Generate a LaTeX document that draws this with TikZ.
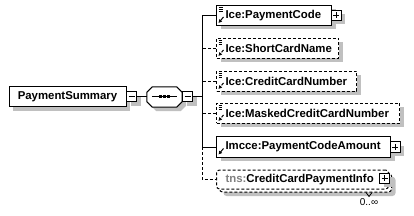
\documentclass[tikz,border=0pt]{standalone}
\usepackage{fontspec}
\setmainfont{Liberation Sans}
\usepackage{xcolor}
\definecolor{xsdshade}{HTML}{C0C0C0}
\definecolor{xsdns}{HTML}{808080}
\usetikzlibrary{arrows.meta,positioning}
\newcommand{\xsdfont}{\fontsize{11.4}{13}\selectfont\bfseries}
\tikzset{
  xsdshadow/.style={preaction={fill=xsdshade,transform canvas={xshift=4pt,yshift=-4pt}}},
  xsdbox/.style={draw,fill=white,line width=1pt,xsdshadow,font=\xsdfont,minimum height=20pt,inner sep=0pt},
  xsdelem/.style={xsdbox,anchor=west,text width=#1,align=left,execute at begin node={\hspace*{9pt}}},
  xsdopt/.style={xsdelem=#1,dash pattern=on 3pt off 2pt},
  xsdmulti/.style={draw,fill=white,line width=1pt,rounded corners=3pt,dash pattern=on 3pt off 2pt,
    font=\xsdfont,minimum height=19pt,inner sep=0pt,anchor=west,text width=#1,align=left,
    execute at begin node={\hspace*{9pt}},
    preaction={fill=xsdshade,transform canvas={xshift=7pt,yshift=-7pt}},
    preaction={draw,fill=white,transform canvas={xshift=3pt,yshift=-3pt}}},
  xsdattr/.style={path picture={
    \foreach \k in {2,3.8,5.6}
      \draw[line width=0.9pt] ([xshift=2pt,yshift=-\k pt]path picture bounding box.north west) -- ++(4.5pt,0pt);}},
  xsdref/.style={postaction={path picture={
    \draw[line width=1pt,-{Latex[length=3.5pt,width=4pt]}] ([xshift=7pt,yshift=8.5pt]path picture bounding box.south west)
      -- ([xshift=2pt,yshift=2.5pt]path picture bounding box.south west);}}},
  xsdpm/.style={draw,fill=white,line width=1pt,xsdshadow,minimum size=10pt,inner sep=0pt,anchor=west},
  xsdminus/.style={xsdpm,path picture={
    \draw[line width=1pt] ([xshift=2pt]path picture bounding box.west) -- ([xshift=-2pt]path picture bounding box.east);}},
  xsdplus/.style={xsdminus,postaction={path picture={
    \draw[line width=1pt] ([yshift=-2pt]path picture bounding box.north) -- ([yshift=2pt]path picture bounding box.south);}}},
  xsdseqbox/.style={rectangle,minimum width=35pt,minimum height=20pt,inner sep=0pt},
  xsdoct/.style={draw,fill=white,line width=1pt,xsdshadow},
  xsdline/.style={line width=1pt},
  xsddash/.style={dash pattern=on 3pt off 2pt},
}
\begin{document}
\begin{tikzpicture}[x=1pt,y=-1pt]
\useasboundingbox (0,0) rectangle (414,216);
% root element and its sequence
\node[xsdbox,minimum width=117pt] (ps) at (67.5,97) {PaymentSummary};
\node[xsdminus] (ps-m) at ([xshift=-0.5pt]ps.east) {};
\node[xsdseqbox] (seq) at (164.5,97) {};
\draw[xsdoct] ([xshift=5.5pt]seq.north west) -- ([xshift=-5.5pt]seq.north east) -- ([yshift=-5.5pt]seq.north east)
  -- ([yshift=5.5pt]seq.south east) -- ([xshift=-5.5pt]seq.south east) -- ([xshift=5.5pt]seq.south west)
  -- ([yshift=5.5pt]seq.south west) -- ([yshift=-5.5pt]seq.north west) -- cycle;
\draw[xsdline] ([xshift=5pt]seq.west) -- ([xshift=-5pt]seq.east);
\foreach \d in {-4,0,4}
  \fill ([xshift=\d pt]seq.center) ++(-1.5pt,-1.5pt) rectangle ++(3pt,3pt);
\node[xsdminus] (seq-m) at (seq.east) {};
\coordinate (bus) at (202,97);
% children
\node[xsdelem=115pt,xsdattr,xsdref] (pc) at (216,15.5) {Ice:PaymentCode};
\node[xsdplus] (pc-p) at ([xshift=-1.5pt]pc.east) {};
\node[xsdopt=122pt,xsdattr,xsdref] (scn) at (216,48.5) {Ice:ShortCardName};
\node[xsdopt=140pt,xsdattr,xsdref] (ccn) at (216,81.5) {Ice:CreditCardNumber};
\node[xsdopt=183pt,xsdattr,xsdref] (mccn) at (216,113.5) {Ice:MaskedCreditCardNumber};
\node[xsdelem=174pt,xsdref] (amt) at (216,147) {Imcce:PaymentCodeAmount};
\node[xsdplus] (amt-p) at ([xshift=-1.5pt]amt.east) {};
\node[xsdmulti=172pt] (info) at (216,179.5) {\textcolor{xsdns}{tns:}CreditCardPaymentInfo};
\node[xsdplus,anchor=center] (info-p) at ([xshift=-4.5pt,yshift=1.5pt]info.east) {};
\node[anchor=north,font=\fontsize{10}{12}\selectfont,inner sep=0pt] (info-n) at (369,198) {0..∞};
% connectors
\draw[xsdline] (ps-m) -- (seq);
\draw[xsdline] (seq-m) -- (bus);
\draw[xsdline] (pc.west) -- (pc.west -| bus) -- (amt.west -| bus) -- (amt.west);
\draw[xsdline,xsddash] (scn.west) -- (scn.west -| bus);
\draw[xsdline,xsddash] (ccn.west) -- (ccn.west -| bus);
\draw[xsdline,xsddash] (mccn.west) -- (mccn.west -| bus);
\draw[xsdline,xsddash] (amt.west -| bus) -- (info.west -| bus) -- (info.west);
\draw[line width=0.8pt] ([xshift=-3pt,yshift=5.5pt]info-n.north) -- ([yshift=1.5pt]info-n.north) -- ([xshift=3pt,yshift=5.5pt]info-n.north);
\end{tikzpicture}
\end{document}
